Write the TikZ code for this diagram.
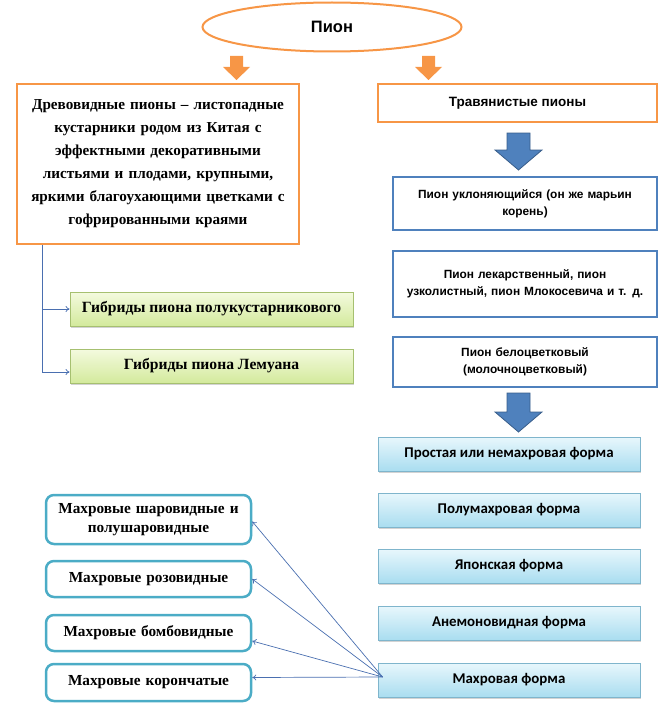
\documentclass[tikz,border=0pt]{standalone}
\usepackage{fontspec}
\setmainfont{Liberation Serif}
\setsansfont{Liberation Sans}
\newfontfamily\calfont{Carlito}
\usetikzlibrary{shapes.geometric,shadows,arrows.meta}
\definecolor{orng}{HTML}{F79646}
\definecolor{bluefill}{HTML}{4F81BD}
\definecolor{blueedge}{HTML}{385D8A}
\definecolor{boxblue}{HTML}{4F81BD}
\definecolor{conncol}{HTML}{4A6FB0}
\definecolor{cyantop}{HTML}{E8F7FC}
\definecolor{cyanbot}{HTML}{A9DDF0}
\definecolor{cyanedge}{HTML}{7FB5CC}
\definecolor{greentop}{HTML}{F4FADF}
\definecolor{greenbot}{HTML}{D3EA9C}
\definecolor{greenedge}{HTML}{A6C070}
\definecolor{tealedge}{HTML}{4BACC6}
\tikzset{
  orangebox/.style={draw=orng, line width=2.5pt, fill=white},
  blueframe/.style={draw=boxblue, line width=2pt, fill=white, minimum width=264pt, text width=250pt, align=center, font=\sffamily\bfseries\fontsize{11.9}{17}\selectfont},
  cyanbox/.style={draw=cyanedge, line width=0.8pt, top color=cyantop, bottom color=cyanbot, minimum width=262pt, minimum height=34pt, font=\calfont\bfseries\fontsize{14.9}{16}\selectfont, drop shadow={shadow xshift=1pt, shadow yshift=-2pt, opacity=0.35}},
  greenbox/.style={draw=greenedge, line width=0.8pt, top color=greentop, bottom color=greenbot, minimum width=283pt, minimum height=34pt, font=\bfseries\fontsize{15.6}{17}\selectfont, drop shadow={shadow xshift=1pt, shadow yshift=-2pt, opacity=0.35}},
  tealbox/.style={draw=tealedge, line width=2.5pt, rounded corners=8pt, fill=white, minimum width=205pt, text width=198pt, align=center, font=\bfseries\fontsize{15.3}{19}\selectfont},
  conn/.style={draw=conncol, line width=0.7pt, -{To[length=4pt,width=6pt]}},
  blockarrow/.style={fill=bluefill, draw=blueedge, line width=0.8pt},
  orangearrow/.style={fill=orng, draw=none},
}
\begin{document}
\begin{tikzpicture}[x=1pt,y=-1pt]
\useasboundingbox (0,0) rectangle (663,709);
% top ellipse
\node[ellipse, draw=orng, line width=2pt, fill=white, minimum width=259pt, minimum height=49pt, font=\sffamily\bfseries\fontsize{16.5}{18}\selectfont] (pion) at (332,27) {Пион};
% orange arrows
\path[orangearrow] (230,56) -- (243,56) -- (243,67) -- (250,67) -- (236.5,80) -- (223,67) -- (230,67) -- cycle;
\path[orangearrow] (422,56) -- (435,56) -- (435,67) -- (442,67) -- (428.5,80) -- (415,67) -- (422,67) -- cycle;
% left big box
\node[orangebox, minimum width=282pt, minimum height=160pt, text width=272pt, align=center, font=\bfseries\fontsize{15.2}{23}\selectfont] (tree) at (158,164) {Древовидные пионы – листопадные\\ кустарники родом из Китая с\\ эффектными декоративными\\ листьями и плодами, крупными,\\ яркими благоухающими цветками с\\ гофрированными краями};
% right orange box
\node[orangebox, minimum width=279pt, minimum height=38pt, font=\sffamily\bfseries\fontsize{13.5}{15}\selectfont] (herb) at (517.5,103) {Травянистые пионы};
% blue arrow 1
\path[blockarrow] (507,133) -- (530,133) -- (530,150) -- (542,150) -- (518.5,170) -- (495,150) -- (507,150) -- cycle;
% blue boxes
\node[blueframe, minimum height=53pt] (b1) at (525,203.5) {Пион уклоняющийся (он же марьин\\ корень)};
\node[blueframe, minimum height=66pt] (b2) at (525,284) {Пион лекарственный, пион\\ узколистный, пион Млокосевича и т. д.};
\node[blueframe, minimum height=50pt] (b3) at (525,362) {Пион белоцветковый\\ (молочноцветковый)};
% blue arrow 2
\path[blockarrow] (507,393) -- (530,393) -- (530,412) -- (542,412) -- (518.5,432) -- (495,412) -- (507,412) -- cycle;
% cyan boxes
\node[cyanbox] (f1) at (509,454) {Простая или немахровая форма};
\node[cyanbox] (f2) at (509,510) {Полумахровая форма};
\node[cyanbox] (f3) at (509,566) {Японская форма};
\node[cyanbox] (f4) at (509,623) {Анемоновидная форма};
\node[cyanbox] (f5) at (509,680) {Махровая форма};
% green boxes
\node[greenbox] (g1) at (211.5,309) {Гибриды пиона полукустарникового};
\node[greenbox] (g2) at (211.5,366) {Гибриды пиона Лемуана};
% teal boxes
\node[tealbox, minimum height=49pt] (t1) at (148.5,519.5) {Махровые шаровидные и\\ полушаровидные};
\node[tealbox, minimum height=36pt] (t2) at (148.5,579) {Махровые розовидные};
\node[tealbox, minimum height=36pt] (t3) at (148.5,633) {Махровые бомбовидные};
\node[tealbox, minimum height=37pt] (t4) at (148.5,682.5) {Махровые корончатые};
% connectors
\coordinate (trunk) at ([xshift=27pt]tree.south west);
\draw[conn] (trunk) |- (g1.west);
\draw[conn] (trunk) |- ([yshift=-6pt]g2.west);
\coordinate (hub) at ([xshift=5pt,yshift=3pt]f5.west);
\draw[conn] (hub) -- ([yshift=-2pt]t1.east);
\draw[conn] (hub) -- (t2.east);
\draw[conn] (hub) -- ([yshift=-8pt]t3.east);
\draw[conn] (hub) -- ([yshift=5pt]t4.east);
\end{tikzpicture}
\end{document}
